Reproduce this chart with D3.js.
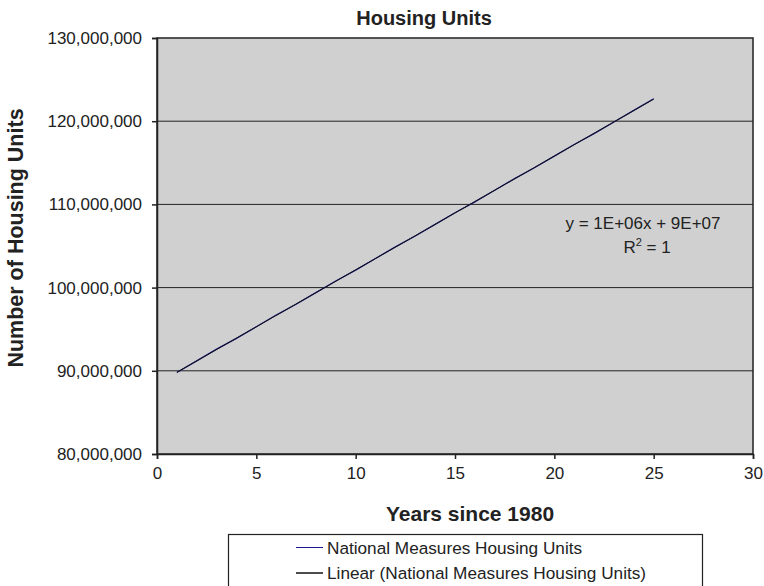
<!DOCTYPE html>
<html><head><meta charset="utf-8">
<script src="https://cdn.jsdelivr.net/npm/d3@7"></script>
<style>body{margin:0;background:#fff}svg{display:block;font-family:"Liberation Sans",Arial,sans-serif}</style>
</head><body>
<svg id="c" width="764" height="586"></svg>
<script>
const years = [1,2,3,4,5,6,7,8,9,10,11,12,13,14,15,16,17,18,19,20,21,22,23,24,25];
const units = [89800000,91200000,92600000,93900000,95300000,96700000,98000000,99400000,100800000,102100000,103500000,104900000,106200000,107600000,109000000,110300000,111700000,113100000,114400000,115800000,117200000,118500000,119900000,121300000,122700000];
const xTicks = [0,5,10,15,20,25,30];
const yTicks = [80000000,90000000,100000000,110000000,120000000,130000000];
const seriesName = "National Measures Housing Units";
const trendName = "Linear (National Measures Housing Units)";
const equationText = "y = 1E+06x + 9E+07";

const svg = d3.select("#c");
const L = 157, R = 753, T = 38, B = 454;
const x = d3.scaleLinear().domain([0,30]).range([L,R]);
const y = d3.scaleLinear().domain([80000000,130000000]).range([B,T]);

svg.append("rect").attr("x",L).attr("y",T).attr("width",R-L).attr("height",B-T).attr("fill","#d0d0d0");
svg.append("g").selectAll("line").data(yTicks.slice(1,-1)).join("line")
  .attr("x1",L).attr("x2",R).attr("y1",d=>y(d)).attr("y2",d=>y(d))
  .attr("stroke","#222").attr("stroke-width",1);
svg.append("rect").attr("x",L).attr("y",T).attr("width",R-L).attr("height",B-T)
  .attr("fill","none").attr("stroke","#222").attr("stroke-width",1.5);

const yAxis = svg.append("g").attr("transform",`translate(${L},0)`)
  .call(d3.axisLeft(y).tickValues(yTicks).tickFormat(d3.format(",")).tickSize(5).tickPadding(10));
const xAxis = svg.append("g").attr("transform",`translate(0,${B})`)
  .call(d3.axisBottom(x).tickValues(xTicks).tickSize(5).tickPadding(8));
[yAxis,xAxis].forEach(a=>{
  a.select(".domain").attr("stroke","#222").attr("stroke-width",1.5);
  a.selectAll(".tick line").attr("stroke","#222").attr("stroke-width",1.5);
  a.selectAll("text").attr("font-size",17).attr("fill","#222").attr("font-family","Liberation Sans, Arial, sans-serif");
});

// data series
const pts = years.map((v,i)=>[v,units[i]]);
const line = d3.line().x(d=>x(d[0])).y(d=>y(d[1]));
svg.append("path").datum(pts).attr("d",line).attr("fill","none").attr("stroke","#1a1a8c").attr("stroke-width",1.3);

// linear trendline (least squares)
const mx = d3.mean(years), my = d3.mean(units);
const slope = d3.sum(pts,d=>(d[0]-mx)*(d[1]-my))/d3.sum(pts,d=>(d[0]-mx)**2);
const icpt = my - slope*mx;
const ext = d3.extent(years);
svg.append("path").datum(ext.map(v=>[v,icpt+slope*v])).attr("d",line)
  .attr("fill","none").attr("stroke","#111").attr("stroke-width",1);

// equation
svg.append("text").attr("x",643).attr("y",229).attr("text-anchor","middle").attr("font-size",17).attr("fill","#222").text(equationText);
const r2 = svg.append("text").attr("x",647).attr("y",253).attr("text-anchor","middle").attr("font-size",17).attr("fill","#222");
r2.append("tspan").text("R");
r2.append("tspan").attr("dy",-7).attr("font-size",11).text("2");
r2.append("tspan").attr("dy",7).text(" = 1");

// titles
svg.append("text").attr("x",424).attr("y",25).attr("text-anchor","middle").attr("font-size",20).attr("font-weight","bold").attr("fill","#222").text("Housing Units");
svg.append("text").attr("x",470).attr("y",521).attr("text-anchor","middle").attr("font-size",21).attr("font-weight","bold").attr("fill","#222").text("Years since 1980");
svg.append("text").attr("transform","translate(23,238) rotate(-90)").attr("text-anchor","middle").attr("font-size",21.5).attr("font-weight","bold").attr("fill","#222").text("Number of Housing Units");

// legend
svg.append("rect").attr("x",228.5).attr("y",534.5).attr("width",474).attr("height",60).attr("fill","#fff").attr("stroke","#222").attr("stroke-width",1.2);
const leg = [{name:seriesName,color:"#1a1a8c",w:1},{name:trendName,color:"#111",w:1.5}];
leg.forEach((d,i)=>{
  const yy = 547.5 + i*25.5;
  svg.append("line").attr("x1",296).attr("x2",323).attr("y1",yy).attr("y2",yy).attr("stroke",d.color).attr("stroke-width",d.w);
  svg.append("text").attr("x",327).attr("y",yy+6).attr("font-size",17.2).attr("fill","#222").text(d.name);
});
</script>
</body></html>
